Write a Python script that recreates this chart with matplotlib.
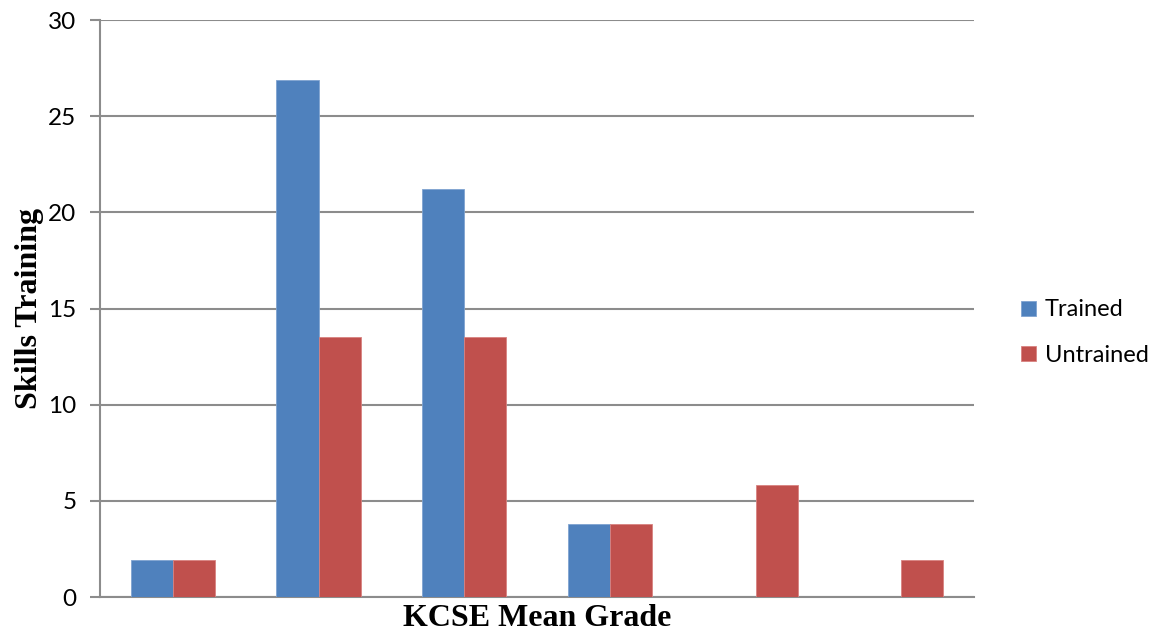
import matplotlib
matplotlib.use("Agg")
import matplotlib.pyplot as plt
import numpy as np

# values
categories = ["1", "2", "3", "4", "5", "6"]
trained = [1.9, 26.9, 21.2, 3.8, 0, 0]
untrained = [1.9, 13.5, 13.5, 3.8, 5.8, 1.9]

blue = "#4F81BD"
red = "#C0504D"
grid_col = "#8C8C8C"

fig = plt.figure(figsize=(11.55, 6.35), dpi=100)
ax = fig.add_axes([0.0866, 0.0598, 0.7567, 0.9087])

x = np.arange(len(categories)) + 0.5
w = 0.289
ax.bar(x - w / 2, trained, w, color=blue, edgecolor="#7FA3D0", linewidth=0.6, label="Trained", zorder=3)
ax.bar(x + w / 2, untrained, w, color=red, edgecolor="#D88280", linewidth=0.6, label="Untrained", zorder=3)

ax.set_xlim(0, len(categories))
ax.set_ylim(0, 30)
ax.set_yticks(np.arange(0, 31, 5))
ax.set_xticks([])
ax.yaxis.grid(True, color=grid_col, linewidth=1.5, zorder=0)
ax.set_axisbelow(True)

for s in ["top", "right"]:
    ax.spines[s].set_visible(False)
ax.spines["left"].set_color(grid_col)
ax.spines["left"].set_linewidth(1.5)
ax.spines["bottom"].set_color(grid_col)
ax.spines["bottom"].set_linewidth(1.5)
ax.tick_params(axis="y", length=7, width=1.5, color=grid_col, labelsize=17.5, pad=10)
for lab in ax.get_yticklabels():
    lab.set_fontfamily("Lato")

ax.set_ylabel("Skills Training", fontsize=23, fontweight="bold", family="Liberation Serif", labelpad=3)
ax.set_xlabel("KCSE Mean Grade", fontsize=23, fontweight="bold", family="Liberation Serif", labelpad=5)

leg = ax.legend(loc="center left", bbox_to_anchor=(1.03, 0.458), frameon=False,
                prop={"family": "Lato", "size": 17}, handlelength=0.6, handleheight=0.6,
                handletextpad=0.4, labelspacing=1.05)

fig.savefig("out.png", dpi=100)
